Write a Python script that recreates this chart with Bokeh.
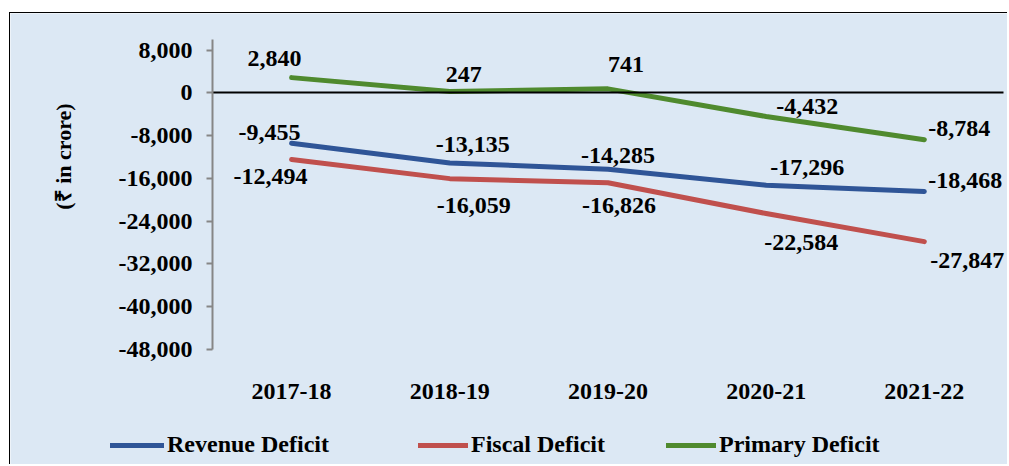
from bokeh.plotting import figure
from bokeh.models import (Range1d, FixedTicker, NumeralTickFormatter, LinearAxis,
                          Legend, LegendItem)
from bokeh.core.properties import value
from bokeh.embed import file_html
from bokeh.resources import INLINE

# ---- data ----
years = ["2017-18", "2018-19", "2019-20", "2020-21", "2021-22"]
revenue_deficit = [-9455, -13135, -14285, -17296, -18468]
fiscal_deficit = [-12494, -16059, -16826, -22584, -27847]
primary_deficit = [2840, 247, 741, -4432, -8784]
series_names = ["Revenue Deficit", "Fiscal Deficit", "Primary Deficit"]
y_ticks = [8000, 0, -8000, -16000, -24000, -32000, -40000, -48000]
y_label = "(₹ in crore)"

# category index positions on the x scale
xs = list(range(len(years)))

# ---- styles ----
FONT = "Liberation Serif"
FS = "24px"
BG = "#DCE8F4"
colors = ["#2F5597", "#C0504D", "#4F8A2E"]
label_dx = [[-22, 23, 10, 41, 41], [-21, 24, 11, 35, 43], [-17, 14, 18, 41, 35]]
label_dy = [[-11, -19, -14, -18, -11], [17, 27, 23, 29, 19], [-19, -17, -24, -10, -11]]
legend_x = [100, 408, 656]
legend_glyph_w = [54, 50, 50]

p = figure(x_range=Range1d(-1.777, 4.532), y_range=Range1d(-69729, 14836),
           width=998, height=452, output_backend="svg", toolbar_location=None,
           min_border=0, background_fill_color=BG, border_fill_color=BG,
           outline_line_color=None)
p.margin = (12, 0, 0, 9)
p.styles = {"border-top": "1px solid #000", "border-left": "1px solid #000"}

p.xgrid.visible = False
p.ygrid.visible = False

# y axis (value axis), drawn at the left edge of the first category band
ya = p.yaxis[0]
ya.fixed_location = -0.5
ya.bounds = (-48000, 10000)
ya.ticker = FixedTicker(ticks=y_ticks)
ya.formatter = NumeralTickFormatter(format="0,0")
ya.axis_line_color = "#868686"
ya.axis_line_width = 2
ya.major_tick_line_color = "#868686"
ya.major_tick_line_width = 2
ya.major_tick_out = 6
ya.major_tick_in = 0
ya.minor_tick_line_color = None
ya.major_label_standoff = 14
ya.major_label_text_font = FONT
ya.major_label_text_font_style = "bold"
ya.major_label_text_font_size = FS
ya.major_label_text_color = "black"

# axis title carried by a label-only axis
ta = LinearAxis(fixed_location=-0.5, bounds=(-33800, 10000),
                ticker=FixedTicker(ticks=[]), axis_line_color=None,
                major_tick_line_color=None, minor_tick_line_color=None,
                major_tick_out=0, axis_label=y_label,
                axis_label_text_font=FONT, axis_label_text_font_style="bold",
                axis_label_text_font_size="22px", axis_label_text_color="black",
                axis_label_standoff=137)
p.add_layout(ta, "left")

# category axis (labels at the bottom of the value axis)
xa = p.xaxis[0]
xa.fixed_location = -48000
xa.ticker = FixedTicker(ticks=xs)
xa.major_label_overrides = {i: y for i, y in zip(xs, years)}
xa.axis_line_color = None
xa.major_tick_line_color = None
xa.minor_tick_line_color = None
xa.major_label_standoff = 29
xa.major_label_text_font = FONT
xa.major_label_text_font_style = "bold"
xa.major_label_text_font_size = FS
xa.major_label_text_color = "black"

# horizontal category axis line crossing at zero
za = LinearAxis(fixed_location=0, bounds=(-0.5, len(years) - 0.5),
                ticker=FixedTicker(ticks=[]), axis_line_color="black",
                axis_line_width=2, major_tick_line_color=None,
                minor_tick_line_color=None)
p.add_layout(za, "below")

series = [revenue_deficit, fiscal_deficit, primary_deficit]
renderers = []
for vals, col in zip(series, colors):
    r = p.line(xs, vals, line_color=col, line_width=5,
               line_cap="round", line_join="round")
    renderers.append(r)

for vals, dx, dy in zip(series, label_dx, label_dy):
    p.text(xs, vals, text=[f"{v:,}" for v in vals], x_offset=dx, y_offset=dy,
           text_align="center", text_baseline="middle",
           text_font=value(FONT), text_font_style="bold",
           text_font_size=FS, text_color="black")

for name, r, lx, gw in zip(series_names, renderers, legend_x, legend_glyph_w):
    leg = Legend(items=[LegendItem(label=name, renderers=[r])],
                 location=(lx, 7), orientation="horizontal",
                 background_fill_alpha=0, border_line_color=None,
                 padding=0, margin=0, spacing=0,
                 glyph_width=gw, glyph_height=20, label_height=20,
                 label_standoff=3, label_text_font=FONT,
                 label_text_font_style="bold", label_text_font_size=FS,
                 label_text_color="black")
    p.add_layout(leg)

open("out.html", "w").write(file_html(p, INLINE))
